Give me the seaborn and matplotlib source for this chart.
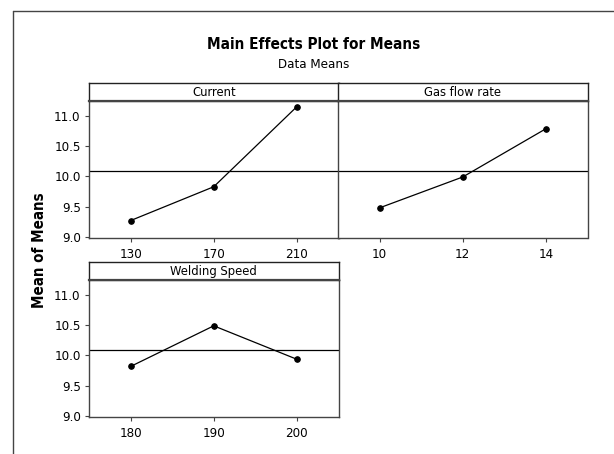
import numpy as np
import pandas as pd
import matplotlib
matplotlib.use("Agg")
import matplotlib.pyplot as plt
from matplotlib.lines import Line2D
import seaborn as sns

# ---- data ----
factors = ["Current", "Gas flow rate", "Welding Speed"]
current_levels = [130, 170, 210]
current_means = [9.267, 9.828, 11.157]
gas_levels = [10, 12, 14]
gas_means = [9.478, 9.99, 10.79]
speed_levels = [180, 190, 200]
speed_means = [9.816, 10.49, 9.935]
grand_mean = 10.084
y_ticks = [9.0, 9.5, 10.0, 10.5, 11.0]

sns.set_theme(style="white")
plt.rcParams["font.family"] = ["DejaVu Sans"]
plt.rcParams["font.stretch"] = "condensed"
plt.rcParams["text.color"] = "black"
plt.rcParams["xtick.color"] = "black"
plt.rcParams["ytick.color"] = "black"

W, H = 614, 454
fig = plt.figure(figsize=(W / 100, H / 100), dpi=100)
fig.patch.set_facecolor("white")

def fx(px):
    return px / W

def fy(py):
    return 1 - py / H

frame_col = "#444444"

panels = [
    (factors[0], current_levels, current_means, 89, 238, True),
    (factors[1], gas_levels, gas_means, 338, 238, False),
    (factors[2], speed_levels, speed_means, 89, 417, True),
]
pw, ph, sh = 249.5, 137, 18

for name, levels, means, left, bottom, show_y in panels:
    ax = fig.add_axes([fx(left), fy(bottom), pw / W, ph / H])
    df = pd.DataFrame({"level": levels, "mean": means})
    sns.lineplot(data=df, x="level", y="mean", ax=ax, color="black",
                 linewidth=0.9, marker="o", markersize=4,
                 markeredgecolor="black", markerfacecolor="black")
    ax.axhline(grand_mean, color="black", linewidth=0.9, zorder=1)
    step = levels[1] - levels[0]
    ax.set_xlim(levels[0] - step / 2, levels[-1] + step / 2)
    ax.set_ylim(8.978, 11.25)
    ax.set_xticks(levels)
    ax.set_xticklabels([str(v) for v in levels])
    ax.set_yticks(y_ticks)
    if show_y:
        ax.set_yticklabels([f"{v:.1f}" for v in y_ticks])
        ax.tick_params(axis="y", left=True, length=3, width=0.8,
                       color=frame_col, labelsize=9.5, pad=3)
    else:
        ax.set_yticklabels([])
        ax.tick_params(axis="y", left=False)
    ax.tick_params(axis="x", bottom=True, length=3, width=0.8,
                   color=frame_col, labelsize=9.5, pad=4)
    ax.set_xlabel("")
    ax.set_ylabel("")
    for s in ax.spines.values():
        s.set_color(frame_col)
        s.set_linewidth(1.0)
    # strip
    sax = fig.add_axes([fx(left), fy(bottom - ph), pw / W, sh / H])
    sax.set_xticks([])
    sax.set_yticks([])
    sax.set_facecolor("white")
    for s in sax.spines.values():
        s.set_color("#222222")
        s.set_linewidth(1.0)
    sax.spines["bottom"].set_linewidth(1.6)
    sax.spines["bottom"].set_color(frame_col)
    sax.text(0.5, 0.45, name, ha="center", va="center", fontsize=9.3,
             transform=sax.transAxes)

fig.text(fx(313.5), fy(49), "Main Effects Plot for Means", ha="center",
         va="baseline", fontsize=11, fontweight="bold")
fig.text(fx(313.5), fy(68), "Data Means", ha="center", va="baseline",
         fontsize=9.5)
fig.text(fx(40), fy(250), "Mean of Means", ha="center", va="center",
         rotation=90, fontsize=10.8, fontweight="bold")

# outer frame (cropped on right and bottom)
fig.add_artist(Line2D([fx(13), fx(13)], [fy(11), 0], color=frame_col,
                      linewidth=1.0, transform=fig.transFigure))
fig.add_artist(Line2D([fx(13), 1], [fy(11), fy(11)], color=frame_col,
                      linewidth=1.0, transform=fig.transFigure))

fig.savefig("out.png", dpi=100, facecolor="white")
